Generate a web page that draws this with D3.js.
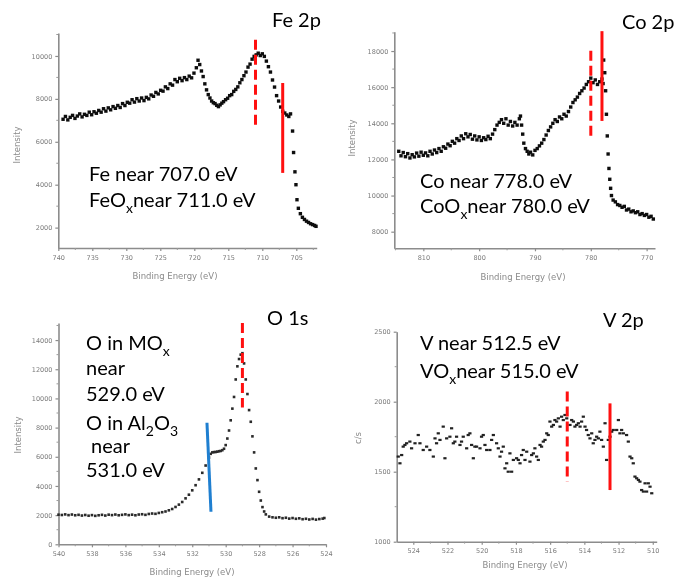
<!DOCTYPE html>
<html><head><meta charset="utf-8">
<script src="https://cdn.jsdelivr.net/npm/d3@7"></script>
<style>
body{margin:0;background:#fff}
svg{display:block}
.ax .domain{stroke:#8c8c8c;stroke-width:1.6}
.ax .tick line{stroke:#8c8c8c;stroke-width:1.2}
.ax .tick text{fill:#7a7a7a;font:6.5px "DejaVu Sans",sans-serif}
.axt{fill:#8a8a8a;font:8.5px "DejaVu Sans",sans-serif}
.note{font:20px Lato,sans-serif;fill:#000}
</style>
</head><body><svg id="c" width="678" height="577"></svg>
<script>
// ---------- spectra: [binding energy (eV), intensity] ----------
const fePoints = [
[739.3,7050],[738.95,7180],[738.6,7020],[738.25,7140],[737.9,7230],[737.55,7090],[737.2,7200],[736.85,7300],
[736.5,7160],[736.15,7280],[735.8,7230],[735.45,7380],[735.1,7260],[734.75,7400],[734.4,7330],[734.05,7460],
[733.7,7380],[733.35,7540],[733.0,7430],[732.65,7580],[732.3,7490],[731.95,7640],[731.6,7560],[731.25,7690],
[730.9,7600],[730.55,7780],[730.2,7690],[729.85,7840],[729.5,7800],[729.15,7960],[728.8,7850],[728.45,8010],
[728.1,7900],[727.75,8040],[727.4,7920],[727.05,8070],[726.7,8000],[726.35,8180],[726.0,8120],[725.65,8300],
[725.3,8230],[724.95,8400],[724.6,8360],[724.25,8560],[723.9,8480],[723.55,8700],[723.2,8640],[722.85,8900],
[722.5,8800],[722.15,8960],[721.8,8850],[721.45,8990],[721.1,8900],[720.75,9060],[720.4,8980],[720.05,9200],
[719.7,9450],[719.45,9800],[719.2,9600],[718.95,9300],[718.7,9040],[718.45,8700],[718.2,8420],[717.95,8200],
[717.7,8040],[717.45,7900],[717.2,7820],[716.95,7780],[716.7,7700],[716.45,7640],[716.2,7720],[715.95,7800],
[715.7,7870],[715.4,7960],[715.1,8030],[714.8,8150],[714.5,8200],[714.2,8350],[713.9,8440],[713.6,8560],
[713.3,8750],[713.0,8900],[712.7,9080],[712.4,9250],[712.1,9480],[711.8,9620],[711.5,9850],[711.2,9980],
[710.9,10050],[710.6,10130],[710.3,10020],[710.0,10100],[709.7,9980],[709.4,9760],[709.1,9500],[708.8,9250],
[708.5,8880],[708.2,8550],[707.9,8150],[707.6,7900],[707.3,7620],[707.0,7420],[706.7,7340],[706.4,7250],
[706.1,7180],[705.85,7300],[705.55,6500],[705.4,5500],[705.2,4600],[705.05,4000],[704.9,3300],[704.7,2900],
[704.4,2650],[704.1,2480],[703.8,2380],[703.5,2300],[703.2,2240],[702.9,2180],[702.6,2140],[702.3,2100],[702.1,2060]
];
const coPoints = [
[814.4,12450],[814.0,12200],[813.6,12380],[813.2,12150],[812.8,12320],[812.4,12080],[812.0,12260],[811.6,12140],
[811.2,12350],[810.8,12180],[810.4,12400],[810.0,12230],[809.6,12360],[809.2,12200],[808.8,12450],[808.4,12300],
[808.0,12520],[807.6,12380],[807.2,12600],[806.8,12450],[806.4,12700],[806.0,12620],[805.6,12850],[805.2,12760],
[804.8,13000],[804.4,12900],[804.0,13150],[803.6,13050],[803.2,13300],[802.8,13150],[802.4,13420],[802.0,13250],
[801.6,13380],[801.2,13120],[800.8,13300],[800.4,13080],[800.0,13250],[799.6,13050],[799.2,13200],[798.8,13100],
[798.4,13280],[798.0,13150],[797.6,13400],[797.2,13650],[796.8,13900],[796.4,14050],[796.0,14200],[795.6,14000],
[795.2,14250],[794.8,13900],[794.4,14100],[794.0,13850],[793.6,14050],[793.2,13900],[792.8,14250],[792.6,14400],
[792.4,13900],[792.2,13400],[792.0,12900],[791.7,12600],[791.4,12450],[791.1,12300],[790.8,12400],[790.4,12250],
[790.0,12500],[789.6,12600],[789.2,12750],[788.8,12900],[788.4,13100],[788.0,13350],[787.6,13600],[787.2,13800],
[786.8,14000],[786.4,14200],[786.0,14100],[785.6,14350],[785.2,14250],[784.8,14500],[784.4,14400],[784.0,14650],
[783.6,14900],[783.2,15150],[782.8,15300],[782.4,15450],[782.0,15650],[781.6,15800],[781.2,15950],[780.8,16150],
[780.4,16300],[780.0,16500],[779.6,16250],[779.2,16400],[778.8,16150],[778.4,16300],[778.0,16450],[777.8,16200],
[777.7,17500],[777.5,16800],[777.35,15800],[777.2,14500],[777.05,13300],[776.9,12300],[776.75,11500],[776.6,10900],
[776.45,10400],[776.3,10000],[776.0,9750],[775.6,9650],[775.2,9500],[774.8,9450],[774.4,9350],[774.0,9400],
[773.6,9200],[773.2,9250],[772.8,9100],[772.4,9150],[772.0,9050],[771.6,9100],[771.2,8950],[770.8,9000],
[770.4,8900],[770.0,8950],[769.6,8800],[769.2,8850],[768.8,8700]
];
const oPoints = [
[540.0,2030],[539.8,2010],[539.6,2050],[539.4,2000],[539.2,2040],[539.0,1990],[538.8,2020],[538.6,1970],
[538.4,2010],[538.2,1960],[538.0,2000],[537.8,1950],[537.6,1990],[537.4,2020],[537.2,1970],[537.0,2030],
[536.8,2000],[536.6,2040],[536.4,1990],[536.2,2020],[536.0,2050],[535.8,2000],[535.6,2030],[535.4,1990],
[535.2,2040],[535.0,2060],[534.8,2020],[534.6,2080],[534.4,2110],[534.2,2090],[534.0,2150],[533.8,2200],
[533.6,2250],[533.4,2330],[533.2,2420],[533.0,2560],[532.8,2720],[532.6,2900],[532.4,3150],[532.2,3400],
[532.0,3700],[531.8,4050],[531.6,4450],[531.4,4900],[531.2,5400],[531.0,5950],[530.9,6200],[530.8,6300],
[530.7,6320],[530.6,6330],[530.5,6350],[530.4,6380],[530.3,6400],[530.2,6450],[530.1,6550],[530.0,6800],
[529.9,7250],[529.8,7800],[529.7,8500],[529.6,9300],[529.5,10100],[529.4,11300],[529.3,12200],[529.2,12700],
[529.1,13000],[529.0,13100],[528.9,12400],[528.8,11300],[528.7,10300],[528.6,9200],[528.5,8400],[528.4,7400],
[528.3,6300],[528.2,5200],[528.1,4400],[528.0,3600],[527.9,3000],[527.8,2550],[527.7,2250],[527.6,2050],
[527.4,1900],[527.2,1850],[527.0,1820],[526.8,1850],[526.6,1790],[526.4,1820],[526.2,1760],[526.0,1800],
[525.8,1750],[525.6,1780],[525.4,1720],[525.2,1750],[525.0,1700],[524.8,1740],[524.6,1690],[524.4,1730],
[524.2,1760],[524.1,1800]
];
const vPoints = [
[524.88,1608],[524.78,1560],[524.68,1619],[524.59,1679],[524.49,1691],[524.39,1703],[524.2,1715],[524.1,1667],
[523.9,1703],[523.71,1762],[523.61,1703],[523.42,1655],[523.22,1679],[523.03,1655],[522.83,1608],[522.73,1738],
[522.64,1703],[522.54,1774],[522.44,1727],[522.25,1822],[522.15,1596],[522.05,1738],[521.86,1750],[521.76,1810],
[521.66,1703],[521.57,1715],[521.47,1750],[521.27,1691],[521.18,1715],[521.08,1750],[520.88,1667],[520.79,1762],
[520.69,1774],[520.59,1691],[520.49,1596],[520.4,1679],[520.3,1679],[520.1,1667],[520.01,1750],[519.91,1762],
[519.81,1691],[519.71,1655],[519.52,1655],[519.42,1727],[519.32,1762],[519.13,1703],[519.03,1667],[518.93,1608],
[518.84,1643],[518.74,1679],[518.64,1524],[518.54,1560],[518.45,1500],[518.35,1631],[518.25,1500],[518.15,1584],
[517.96,1596],[517.86,1584],[517.76,1560],[517.67,1619],[517.57,1655],[517.47,1584],[517.37,1643],[517.18,1572],
[517.08,1619],[516.98,1631],[516.89,1667],[516.79,1608],[516.69,1584],[516.59,1691],[516.5,1679],[516.4,1715],
[516.3,1727],[516.2,1774],[516.11,1762],[516.01,1858],[515.91,1822],[515.81,1834],[515.72,1869],[515.62,1858],
[515.52,1881],[515.42,1822],[515.33,1893],[515.23,1869],[515.13,1905],[515.03,1881],[514.84,1834],[514.74,1869],
[514.64,1858],[514.55,1822],[514.45,1834],[514.35,1846],[514.25,1822],[514.16,1858],[514.06,1893],[513.96,1822],
[513.87,1798],[513.77,1762],[513.67,1738],[513.57,1774],[513.48,1703],[513.38,1727],[513.28,1750],[513.18,1738],
[513.09,1786],[512.99,1727],[512.89,1679],[512.79,1846],[512.7,1584],[512.6,1727],[512.5,1750],[512.4,1786],
[512.31,1798],[512.11,1798],[512.01,1869],[511.92,1774],[511.82,1798],[511.72,1774],[511.53,1762],[511.43,1715],
[511.33,1608],[511.23,1596],[511.14,1560],[511.04,1465],[510.94,1453],[510.84,1441],[510.75,1429],[510.65,1369],
[510.55,1358],[510.45,1417],[510.36,1358],[510.26,1417],[510.16,1393],[510.06,1346]
];

// ---------- axis ticks ----------
const feXTicks = [740,735,730,725,720,715,710,705];
const feYTicks = [2000,4000,6000,8000,10000];
const coXTicks = [810,800,790,780,770];
const coYTicks = [8000,10000,12000,14000,16000,18000];
const oXTicks  = [540,538,536,534,532,530,528,526,524];
const oYTicks  = [0,2000,4000,6000,8000,10000,12000,14000];
const vXTicks  = [524,522,520,518,516,514,512,510];
const vYTicks  = [1000,1500,2000,2500];

// ---------- reference energies (eV) with the intensity span of each marker ----------
const feRefs = [{eV:711.0, lo:6600, hi:10750, kind:"oxide"}, {eV:707.0, lo:4550, hi:8740, kind:"metal"}];
const coRefs = [{eV:780.0, lo:13030, hi:18010, kind:"oxide"}, {eV:778.0, lo:14130, hi:19100, kind:"metal"}];
const oRefs  = [{eV:529.0, lo:9380, hi:15170, kind:"oxide"}, {eV:531.0, lo:2230, hi:8330, kind:"alumina"}];
const vRefs  = [{eV:515.0, lo:1429, hi:2072, kind:"oxide"}, {eV:512.5, lo:1369, hi:1988, kind:"metal"}];

// ---------- labels ----------
const titles = ["Fe 2p", "Co 2p", "O 1s", "V 2p"];
const feNotes = [[["Fe near 707.0 eV"]], [["FeO"],["x","sub"],["near 711.0 eV"]]];
const coNotes = [[["Co near 778.0 eV"]], [["CoO"],["x","sub"],["near 780.0 eV"]]];
const oNotes  = [[["O in MO"],["x","sub"]], [["near"]], [["529.0 eV"]],
                 [["O in Al"],["2","sub"],["O"],["3","sub"]], [[" near"]], [["531.0 eV"]]];
const vNotes  = [[["V near 512.5 eV"]], [["VO"],["x","sub"],["near 515.0 eV"]]];

const svg = d3.select("#c");
const defs = svg.append("defs");
defs.append("filter").attr("id","soft").attr("x","-5%").attr("y","-5%").attr("width","110%").attr("height","110%")
  .append("feGaussianBlur").attr("stdDeviation",0.55);
defs.append("filter").attr("id","softer")
  .append("feGaussianBlur").attr("stdDeviation",0.35);

const lineStyle = {
  oxide:   {stroke:"#ff1010", dash:"10,5"},
  metal:   {stroke:"#ff1010", dash:null},
  alumina: {stroke:"#1f7fd0", dash:null}
};

const panels = [
  {points:fePoints, xTicks:feXTicks, yTicks:feYTicks, xMinor:2.5, yMinor:1000, refs:feRefs, notes:feNotes,
   xDomain:[740,702], yDomain:[1050,11070], left:58.3, right:316.7, bottom:248, top:33,
   title:titles[0], titlePos:[272,27], notePos:[89,181], noteGap:26,
   yLab:"Intensity", yLabPos:[20,145], xLabPos:[175,279], marker:[3.4,3.4], color:"#111"},
  {points:coPoints, xTicks:coXTicks, yTicks:coYTicks, xMinor:5, yMinor:1000, refs:coRefs, notes:coNotes,
   xDomain:[815.2,768.5], yDomain:[7080,19070], left:394.3, right:655, bottom:248.3, top:31.7,
   title:titles[1], titlePos:[622,29], notePos:[420,188], noteGap:25,
   yLab:"Intensity", yLabPos:[355,138], xLabPos:[523,280], marker:[3.4,3.4], color:"#111"},
  {points:oPoints, xTicks:oXTicks, yTicks:oYTicks, xMinor:1, yMinor:1000, refs:oRefs, notes:oNotes,
   xDomain:[540,524], yDomain:[0,15170], left:58.5, right:326, bottom:544.3, top:323,
   title:titles[2], titlePos:[267,325], notePos:[86,350], noteGap:null,
   lineYs:[350,375,401,430,453,477],
   yLab:"Intensity", yLabPos:[21,435], xLabPos:[192,575], marker:[2.6,2.6], color:"#2a2a2a"},
  {points:vPoints, xTicks:vXTicks, yTicks:vYTicks, xMinor:1, yMinor:250, refs:vRefs, notes:vNotes,
   xDomain:[524.97,509.77], yDomain:[1000,2500], left:396.7, right:656.7, bottom:541.7, top:331.7,
   title:titles[3], titlePos:[603,327], notePos:[420,350], noteGap:28,
   yLab:"c/s", yLabPos:[361,438], xLabPos:[525,568], marker:[3.2,2.2], color:"#222"}
];

panels.forEach(p => {
  const x = d3.scaleLinear().domain(p.xDomain).range([p.left, p.right]);
  const y = d3.scaleLinear().domain(p.yDomain).range([p.bottom, p.top]);
  const g = svg.append("g");

  // axes, drawn soft like a scanned instrument plot
  const axes = g.append("g").attr("filter","url(#soft)");
  axes.append("g").attr("class","ax").attr("transform",`translate(0,${p.bottom})`)
    .call(d3.axisBottom(x).tickValues(p.xTicks).tickSize(3).tickSizeOuter(0).tickPadding(4).tickFormat(d3.format("d")));
  axes.append("g").attr("class","ax").attr("transform",`translate(${p.left},0)`)
    .call(d3.axisLeft(y).tickValues(p.yTicks).tickSize(3).tickSizeOuter(0).tickPadding(3).tickFormat(d3.format("d")));
  // minor ticks
  const [xa0, xa1] = d3.extent(p.xDomain);
  const xMinors = d3.range(Math.ceil(xa0 / p.xMinor) * p.xMinor, xa1, p.xMinor).filter(v => !p.xTicks.includes(v));
  axes.append("g").selectAll("line").data(xMinors).join("line")
    .attr("x1", d => x(d)).attr("x2", d => x(d)).attr("y1", p.bottom).attr("y2", p.bottom + 2)
    .attr("stroke","#9a9a9a").attr("stroke-width",1);
  const [ya0, ya1] = d3.extent(p.yDomain);
  const yMinors = d3.range(Math.ceil(ya0 / p.yMinor) * p.yMinor, ya1, p.yMinor).filter(v => !p.yTicks.includes(v));
  axes.append("g").selectAll("line").data(yMinors).join("line")
    .attr("x1", p.left - 2).attr("x2", p.left).attr("y1", d => y(d)).attr("y2", d => y(d))
    .attr("stroke","#9a9a9a").attr("stroke-width",1);

  axes.append("text").attr("class","axt").attr("text-anchor","middle")
    .attr("x", p.xLabPos[0]).attr("y", p.xLabPos[1]).text("Binding Energy (eV)");
  axes.append("text").attr("class","axt").attr("text-anchor","middle")
    .attr("transform", `translate(${p.yLabPos[0]},${p.yLabPos[1]}) rotate(-90)`).text(p.yLab);

  // data points
  const [mw, mh] = p.marker;
  g.append("g").attr("filter","url(#softer)").selectAll("rect").data(p.points).join("rect")
    .attr("x", d => x(d[0]) - mw / 2).attr("y", d => y(d[1]) - mh / 2)
    .attr("width", mw).attr("height", mh).attr("fill", p.color);

  // reference energy markers
  g.append("g").selectAll("line").data(p.refs).join("line")
    .attr("x1", d => x(d.eV + (d.kind === "alumina" ? 0.12 : 0))).attr("x2", d => x(d.eV - (d.kind === "alumina" ? 0.12 : 0)))
    .attr("y1", d => y(d.hi)).attr("y2", d => y(d.lo))
    .attr("stroke", d => lineStyle[d.kind].stroke).attr("stroke-width", 3)
    .attr("stroke-dasharray", d => lineStyle[d.kind].dash);

  // title and notes
  g.append("text").attr("class","note").attr("x", p.titlePos[0]).attr("y", p.titlePos[1]).text(p.title);
  p.notes.forEach((line, i) => {
    const ty = p.lineYs ? p.lineYs[i] : p.notePos[1] + i * p.noteGap;
    const t = g.append("text").attr("class","note").attr("x", p.notePos[0]).attr("y", ty).attr("xml:space","preserve");
    let shifted = false;
    line.forEach(([s, role]) => {
      const sp = t.append("tspan").text(s);
      if (role === "sub") { sp.attr("dy", 6).style("font-size","14px"); shifted = true; }
      else if (shifted) { sp.attr("dy", -6); shifted = false; }
    });
  });
});
</script>
</body></html>
